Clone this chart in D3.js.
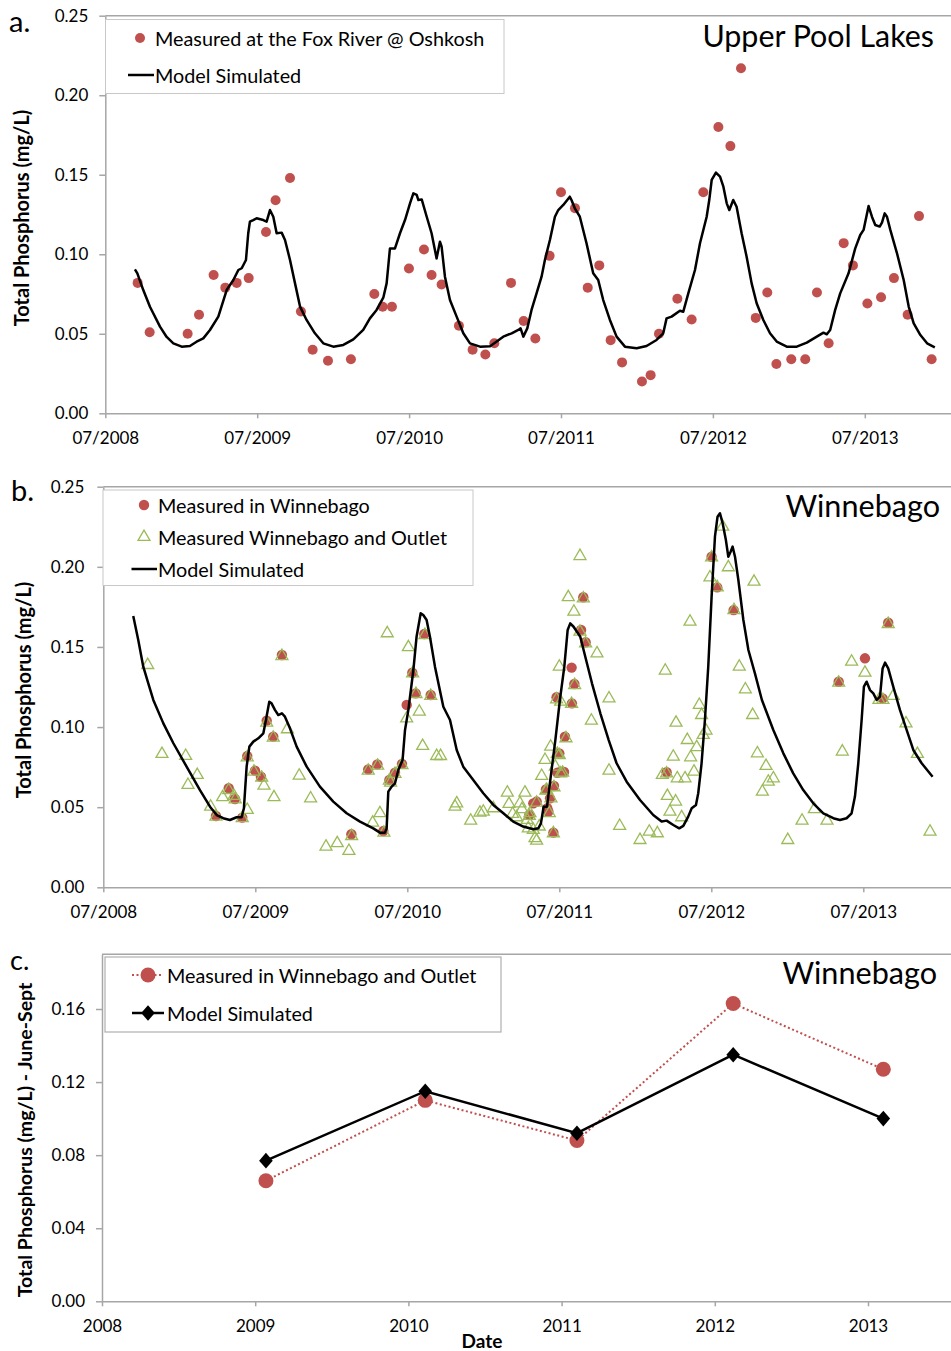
<!DOCTYPE html>
<html><head><meta charset="utf-8">
<script src="https://cdn.jsdelivr.net/npm/d3@7"></script>
<style>body{margin:0;background:#fff}svg{display:block}text{font-family:Lato,'Open Sans',sans-serif;fill:#000}</style>
</head><body><svg id="chart" width="951" height="1351"></svg>
<script>
// ---------- DATA (x = decimal year, y = total phosphorus mg/L) ----------
const monthTickValues = [2008.5, 2009.5, 2010.5, 2011.5, 2012.5, 2013.5];
const monthTickLabels = ["07/2008", "07/2009", "07/2010", "07/2011", "07/2012", "07/2013"];
const tpTicksAB = [0, 0.05, 0.10, 0.15, 0.20, 0.25];
const yearTickValues = [2008, 2009, 2010, 2011, 2012, 2013];
const yearTickLabels = ["2008", "2009", "2010", "2011", "2012", "2013"];
const tpTicksC = [0, 0.04, 0.08, 0.12, 0.16];

const upperMeasured = [[2008.713,0.082],[2008.792,0.051],[2009.042,0.050],[2009.117,0.062],[2009.213,0.087],[2009.290,0.079],[2009.365,0.082],[2009.444,0.085],[2009.558,0.114],[2009.621,0.134],[2009.716,0.148],[2009.788,0.064],[2009.865,0.040],[2009.966,0.033],[2010.117,0.034],[2010.271,0.075],[2010.326,0.067],[2010.387,0.067],[2010.499,0.091],[2010.598,0.103],[2010.648,0.087],[2010.714,0.081],[2010.828,0.055],[2010.918,0.040],[2011.002,0.037],[2011.061,0.044],[2011.171,0.082],[2011.254,0.058],[2011.331,0.047],[2011.425,0.099],[2011.500,0.139],[2011.592,0.129],[2011.676,0.079],[2011.752,0.093],[2011.827,0.046],[2011.902,0.032],[2012.033,0.020],[2012.090,0.024],[2012.145,0.050],[2012.266,0.072],[2012.360,0.059],[2012.437,0.139],[2012.536,0.180],[2012.615,0.168],[2012.685,0.217],[2012.782,0.060],[2012.858,0.076],[2012.918,0.031],[2013.016,0.034],[2013.108,0.034],[2013.185,0.076],[2013.262,0.044],[2013.361,0.107],[2013.422,0.093],[2013.517,0.069],[2013.607,0.073],[2013.692,0.085],[2013.782,0.062],[2013.857,0.124],[2013.940,0.034]];

const upperModel = [[2008.695,0.0905],[2008.711,0.088],[2008.750,0.0775],[2008.794,0.067],[2008.860,0.0545],[2008.904,0.048],[2008.948,0.044],[2009.003,0.0419],[2009.057,0.0423],[2009.101,0.045],[2009.145,0.0471],[2009.189,0.0524],[2009.244,0.0608],[2009.299,0.0775],[2009.343,0.0838],[2009.376,0.0901],[2009.398,0.0912],[2009.426,0.0964],[2009.441,0.1132],[2009.452,0.1205],[2009.474,0.1215],[2009.496,0.1226],[2009.540,0.1215],[2009.562,0.1205],[2009.584,0.1278],[2009.606,0.1236],[2009.628,0.1132],[2009.661,0.1136],[2009.683,0.109],[2009.716,0.0964],[2009.749,0.0817],[2009.782,0.0671],[2009.825,0.0587],[2009.880,0.0503],[2009.935,0.044],[2010.001,0.0419],[2010.067,0.043],[2010.133,0.0465],[2010.198,0.0524],[2010.242,0.0597],[2010.286,0.065],[2010.330,0.0727],[2010.352,0.0817],[2010.374,0.1037],[2010.407,0.1037],[2010.440,0.1132],[2010.473,0.1215],[2010.506,0.132],[2010.528,0.1383],[2010.550,0.1373],[2010.561,0.1341],[2010.583,0.1345],[2010.616,0.1236],[2010.648,0.1132],[2010.681,0.0974],[2010.703,0.1079],[2010.714,0.1048],[2010.736,0.0859],[2010.769,0.0712],[2010.813,0.0608],[2010.857,0.0503],[2010.901,0.044],[2010.967,0.0419],[2011.033,0.0422],[2011.120,0.0482],[2011.175,0.0503],[2011.219,0.0524],[2011.234,0.0534],[2011.252,0.0482],[2011.278,0.0534],[2011.306,0.065],[2011.339,0.0754],[2011.372,0.0859],[2011.394,0.0964],[2011.427,0.109],[2011.460,0.1236],[2011.482,0.1278],[2011.515,0.131],[2011.558,0.1362],[2011.569,0.1341],[2011.591,0.1289],[2011.624,0.1236],[2011.668,0.1069],[2011.712,0.088],[2011.745,0.0838],[2011.778,0.0712],[2011.822,0.0587],[2011.866,0.0482],[2011.921,0.0419],[2011.998,0.0409],[2012.063,0.0423],[2012.129,0.0461],[2012.173,0.0503],[2012.195,0.0597],[2012.228,0.0608],[2012.283,0.0645],[2012.305,0.0639],[2012.338,0.0754],[2012.382,0.0901],[2012.415,0.1069],[2012.459,0.1236],[2012.476,0.1341],[2012.492,0.1467],[2012.520,0.1513],[2012.547,0.1488],[2012.569,0.1425],[2012.591,0.132],[2012.608,0.1278],[2012.634,0.1341],[2012.656,0.1299],[2012.689,0.1132],[2012.722,0.0985],[2012.755,0.0817],[2012.788,0.0692],[2012.832,0.0587],[2012.876,0.0503],[2012.920,0.0451],[2012.986,0.0419],[2013.052,0.0419],[2013.118,0.0444],[2013.184,0.0482],[2013.228,0.0507],[2013.250,0.0497],[2013.272,0.0524],[2013.305,0.065],[2013.338,0.0754],[2013.393,0.088],[2013.437,0.1037],[2013.470,0.1121],[2013.492,0.1153],[2013.525,0.1303],[2013.547,0.1236],[2013.569,0.1184],[2013.598,0.1174],[2013.613,0.1199],[2013.631,0.1257],[2013.646,0.1236],[2013.668,0.1153],[2013.712,0.1006],[2013.756,0.0838],[2013.789,0.0671],[2013.822,0.0566],[2013.866,0.0492],[2013.910,0.044],[2013.961,0.0415]];

const winMeasured = [[2009.241,0.0445],[2009.325,0.0618],[2009.366,0.0551],[2009.414,0.0435],[2009.447,0.0819],[2009.498,0.0728],[2009.537,0.069],[2009.575,0.104],[2009.618,0.094],[2009.675,0.145],[2010.132,0.0331],[2010.243,0.0736],[2010.303,0.0767],[2010.342,0.0351],[2010.382,0.067],[2010.419,0.0715],[2010.465,0.077],[2010.496,0.1138],[2010.533,0.1339],[2010.555,0.121],[2010.612,0.1581],[2010.654,0.12],[2011.303,0.0451],[2011.329,0.0524],[2011.351,0.0535],[2011.412,0.0611],[2011.421,0.0493],[2011.428,0.0472],[2011.439,0.0555],[2011.461,0.0341],[2011.465,0.0632],[2011.482,0.1186],[2011.487,0.0715],[2011.500,0.0836],[2011.509,0.072],[2011.531,0.072],[2011.537,0.094],[2011.581,0.1371],[2011.583,0.1148],[2011.599,0.1269],[2011.643,0.1606],[2011.658,0.181],[2011.673,0.1529],[2012.206,0.0718],[2012.502,0.2063],[2012.539,0.1872],[2012.647,0.173],[2013.338,0.1283],[2013.511,0.1429],[2013.627,0.1179],[2013.664,0.1651]];

const winOutlet = [[2008.792,0.1387],[2008.886,0.0832],[2009.042,0.082],[2009.057,0.0639],[2009.118,0.0701],[2009.206,0.0503],[2009.241,0.0441],[2009.285,0.0562],[2009.325,0.0607],[2009.360,0.057],[2009.368,0.0549],[2009.414,0.0431],[2009.447,0.0483],[2009.447,0.0811],[2009.491,0.0722],[2009.542,0.0684],[2009.557,0.0634],[2009.575,0.1027],[2009.618,0.0934],[2009.623,0.0562],[2009.675,0.1443],[2009.711,0.0986],[2009.789,0.0697],[2009.864,0.0555],[2009.965,0.0254],[2010.039,0.0275],[2010.116,0.0227],[2010.134,0.032],[2010.243,0.0728],[2010.272,0.0403],[2010.305,0.0759],[2010.320,0.0462],[2010.346,0.0341],[2010.368,0.1585],[2010.382,0.0666],[2010.390,0.0653],[2010.419,0.0707],[2010.465,0.0763],[2010.496,0.1054],[2010.507,0.1498],[2010.535,0.1335],[2010.557,0.1206],[2010.579,0.1096],[2010.601,0.0882],[2010.616,0.1574],[2010.654,0.1194],[2010.693,0.0819],[2010.719,0.0819],[2010.814,0.0503],[2010.825,0.0524],[2010.917,0.0416],[2010.978,0.0466],[2011.000,0.0472],[2011.066,0.0493],[2011.158,0.0591],[2011.169,0.052],[2011.193,0.0458],[2011.219,0.0437],[2011.241,0.0524],[2011.254,0.0487],[2011.274,0.0591],[2011.289,0.042],[2011.296,0.0368],[2011.303,0.0445],[2011.307,0.0462],[2011.329,0.0358],[2011.340,0.0306],[2011.351,0.0291],[2011.351,0.0528],[2011.368,0.0379],[2011.384,0.0695],[2011.406,0.0795],[2011.412,0.0603],[2011.417,0.0607],[2011.434,0.0462],[2011.443,0.0878],[2011.445,0.0555],[2011.461,0.0337],[2011.465,0.0624],[2011.474,0.0753],[2011.482,0.1173],[2011.487,0.0832],[2011.500,0.1377],[2011.500,0.0824],[2011.509,0.1158],[2011.509,0.0711],[2011.522,0.0715],[2011.544,0.093],[2011.559,0.181],[2011.581,0.1144],[2011.596,0.172],[2011.601,0.1262],[2011.636,0.2067],[2011.636,0.1595],[2011.658,0.1803],[2011.673,0.1522],[2011.711,0.104],[2011.748,0.146],[2011.827,0.1179],[2011.827,0.0728],[2011.897,0.0383],[2012.031,0.0295],[2012.092,0.0347],[2012.145,0.0337],[2012.178,0.0701],[2012.197,0.1352],[2012.206,0.0711],[2012.211,0.057],[2012.228,0.0472],[2012.250,0.0815],[2012.265,0.0535],[2012.268,0.1027],[2012.276,0.068],[2012.305,0.0437],[2012.327,0.068],[2012.342,0.0919],[2012.360,0.1658],[2012.364,0.0811],[2012.386,0.0722],[2012.404,0.0874],[2012.421,0.1138],[2012.436,0.1075],[2012.447,0.0951],[2012.465,0.0978],[2012.491,0.1934],[2012.502,0.2059],[2012.539,0.1872],[2012.575,0.225],[2012.612,0.1997],[2012.649,0.173],[2012.684,0.1377],[2012.724,0.1235],[2012.772,0.1075],[2012.781,0.1907],[2012.803,0.0836],[2012.836,0.0597],[2012.860,0.0757],[2012.875,0.0659],[2012.908,0.068],[2013.003,0.0295],[2013.097,0.0416],[2013.178,0.0487],[2013.261,0.0416],[2013.338,0.1277],[2013.362,0.0847],[2013.423,0.1408],[2013.511,0.1339],[2013.603,0.1169],[2013.629,0.1169],[2013.664,0.1643],[2013.697,0.1194],[2013.781,0.1023],[2013.856,0.0832],[2013.939,0.0347]];

const winModel = [[2008.697,0.1693],[2008.730,0.1543],[2008.763,0.1377],[2008.796,0.1273],[2008.829,0.1169],[2008.895,0.1023],[2008.961,0.0899],[2009.048,0.0753],[2009.136,0.0607],[2009.202,0.0503],[2009.246,0.0451],[2009.289,0.0431],[2009.333,0.042],[2009.377,0.0437],[2009.410,0.0437],[2009.425,0.0493],[2009.443,0.0753],[2009.461,0.0878],[2009.487,0.0909],[2009.520,0.093],[2009.553,0.0961],[2009.570,0.1044],[2009.592,0.1158],[2009.607,0.1148],[2009.629,0.1107],[2009.651,0.1075],[2009.675,0.1086],[2009.695,0.1065],[2009.728,0.0992],[2009.772,0.0878],[2009.838,0.0753],[2009.925,0.0628],[2010.013,0.0535],[2010.101,0.0462],[2010.189,0.041],[2010.276,0.0368],[2010.320,0.0341],[2010.353,0.0341],[2010.364,0.0368],[2010.375,0.0597],[2010.397,0.0628],[2010.419,0.0649],[2010.441,0.0732],[2010.469,0.0795],[2010.485,0.0982],[2010.507,0.1107],[2010.540,0.1356],[2010.561,0.1564],[2010.588,0.171],[2010.605,0.1699],[2010.627,0.1668],[2010.649,0.1564],[2010.682,0.1377],[2010.737,0.1127],[2010.781,0.1044],[2010.825,0.0857],[2010.868,0.0753],[2010.934,0.067],[2011.000,0.0587],[2011.066,0.0514],[2011.132,0.0462],[2011.197,0.041],[2011.263,0.0379],[2011.329,0.0362],[2011.362,0.0368],[2011.379,0.0399],[2011.397,0.0503],[2011.419,0.0503],[2011.441,0.067],[2011.474,0.0919],[2011.504,0.1169],[2011.533,0.1377],[2011.555,0.1606],[2011.572,0.1647],[2011.594,0.1626],[2011.616,0.1595],[2011.638,0.1564],[2011.671,0.1439],[2011.715,0.1273],[2011.770,0.1086],[2011.825,0.0919],[2011.877,0.0774],[2011.943,0.0659],[2012.031,0.0545],[2012.118,0.0451],[2012.173,0.041],[2012.206,0.0416],[2012.250,0.0389],[2012.289,0.0368],[2012.316,0.0383],[2012.348,0.0441],[2012.371,0.0493],[2012.399,0.0514],[2012.414,0.0587],[2012.436,0.0774],[2012.458,0.1044],[2012.480,0.1377],[2012.502,0.1814],[2012.524,0.2188],[2012.541,0.2313],[2012.557,0.2334],[2012.575,0.2271],[2012.596,0.2167],[2012.612,0.2063],[2012.627,0.2094],[2012.640,0.2126],[2012.656,0.2063],[2012.678,0.1918],[2012.711,0.1668],[2012.744,0.1481],[2012.787,0.1335],[2012.833,0.1169],[2012.908,0.0982],[2012.974,0.0836],[2013.039,0.0711],[2013.105,0.0607],[2013.171,0.0524],[2013.237,0.0462],[2013.303,0.0431],[2013.346,0.042],[2013.390,0.0431],[2013.423,0.0462],[2013.445,0.0566],[2013.467,0.0774],[2013.489,0.1044],[2013.504,0.1252],[2013.522,0.1283],[2013.544,0.1231],[2013.566,0.121],[2013.588,0.1169],[2013.610,0.119],[2013.627,0.1366],[2013.643,0.1402],[2013.664,0.1366],[2013.697,0.1252],[2013.741,0.1107],[2013.785,0.0982],[2013.829,0.0857],[2013.884,0.0774],[2013.956,0.069]];

const seasonYears = [2009.07, 2010.11, 2011.10, 2012.12, 2013.10];
const seasonMeasured = [0.066, 0.110, 0.088, 0.163, 0.127];
const seasonModel = [0.077, 0.115, 0.092, 0.135, 0.100];

// ---------- DRAWING ----------
const RED = "#C0504D", GREEN = "#9BBB59", AXC = "#a6a6a6", LEG = "#c8c8c8";
const svg = d3.select("#chart");
const W = 951;

function axes(x, y, xVals, xLabs, yVals, yPad, yFmt) {
  const g = svg.append("g");
  const y0 = y.range()[0], yTop = y.range()[1], x0 = x.range()[0];
  g.append("line").attr("x1", x0).attr("x2", W).attr("y1", yTop).attr("y2", yTop)
    .attr("stroke", AXC).attr("stroke-width", 1.5);
  const gl = g.append("g").attr("transform", `translate(${x0},0)`)
    .call(d3.axisLeft(y).tickValues(yVals).tickFormat(yFmt).tickSize(6).tickPadding(yPad).tickSizeOuter(0));
  const gb = g.append("g").attr("transform", `translate(0,${y0})`)
    .call(d3.axisBottom(x).tickValues(xVals).tickFormat((d, i) => xLabs[i]).tickSize(5).tickPadding(14).tickSizeOuter(0));
  [gl, gb].forEach(a => {
    a.select(".domain").attr("stroke", AXC).attr("stroke-width", 1.5);
    a.selectAll(".tick line").attr("stroke", AXC).attr("stroke-width", 1.5);
    a.selectAll(".tick text").attr("font-size", 17).attr("font-family", "Lato").attr("fill", "#000");
  });
}

function label(txt, x, y, size, opts = {}) {
  const t = svg.append("text").attr("x", x).attr("y", y).attr("font-size", size).text(txt);
  if (opts.anchor) t.attr("text-anchor", opts.anchor);
  if (opts.bold) t.attr("font-weight", "bold");
  if (opts.mid) t.attr("dominant-baseline", "central");
  return t;
}
function vlabel(txt, x, y, size) {
  svg.append("text").attr("transform", `translate(${x},${y}) rotate(-90)`)
    .attr("text-anchor", "middle").attr("font-size", size).attr("font-weight", "bold").text(txt);
}

// ===== Panel a =====
const xA = d3.scaleLinear().domain([2008.5, 2014.5]).range([105.3, 105.3 + 6 * 151.9]);
const yA = d3.scaleLinear().domain([0, 0.25]).range([413.3, 15.7]);
axes(xA, yA, monthTickValues, monthTickLabels, tpTicksAB, 11, d3.format(".2f"));
svg.append("g").selectAll("circle").data(upperMeasured).join("circle")
  .attr("cx", d => xA(d[0])).attr("cy", d => yA(d[1])).attr("r", 5).attr("fill", RED);
svg.append("path").datum(upperModel)
  .attr("d", d3.line().x(d => xA(d[0])).y(d => yA(d[1])))
  .attr("fill", "none").attr("stroke", "#000").attr("stroke-width", 2.5).attr("stroke-linejoin", "round");
// legend a
svg.append("rect").attr("x", 105.5).attr("y", 19.5).attr("width", 398.5).attr("height", 74)
  .attr("fill", "#fff").attr("stroke", LEG).attr("stroke-width", 1);
svg.append("circle").attr("cx", 140).attr("cy", 38).attr("r", 5).attr("fill", RED);
label("Measured at the Fox River @ Oshkosh", 155, 38, 19.8, { mid: true });
svg.append("line").attr("x1", 128).attr("x2", 154).attr("y1", 75).attr("y2", 75).attr("stroke", "#000").attr("stroke-width", 2.5);
label("Model Simulated", 155, 75, 19.8, { mid: true });
label("Upper Pool Lakes", 934, 47, 30.4, { anchor: "end" });
label("a.", 9, 32, 29);
vlabel("Total Phosphorus (mg/L)", 29, 218, 20);

// ===== Panel b =====
const xB = d3.scaleLinear().domain([2008.5, 2014.5]).range([103.3, 103.3 + 6 * 152]);
const yB = d3.scaleLinear().domain([0, 0.25]).range([887.3, 486.7]);
axes(xB, yB, monthTickValues, monthTickLabels, tpTicksAB, 13, d3.format(".2f"));
svg.append("g").selectAll("circle").data(winMeasured).join("circle")
  .attr("cx", d => xB(d[0])).attr("cy", d => yB(d[1])).attr("r", 5.2).attr("fill", RED);
const tri = d3.symbol(d3.symbolTriangle).size(62);
svg.append("g").selectAll("path").data(winOutlet).join("path")
  .attr("transform", d => `translate(${xB(d[0])},${yB(d[1])})`).attr("d", tri)
  .attr("fill", "none").attr("stroke", GREEN).attr("stroke-width", 1.3);
svg.append("path").datum(winModel)
  .attr("d", d3.line().x(d => xB(d[0])).y(d => yB(d[1])))
  .attr("fill", "none").attr("stroke", "#000").attr("stroke-width", 2.5).attr("stroke-linejoin", "round");
// legend b
svg.append("rect").attr("x", 103).attr("y", 490).attr("width", 370).attr("height", 95.5)
  .attr("fill", "#fff").attr("stroke", LEG).attr("stroke-width", 1);
svg.append("circle").attr("cx", 144).attr("cy", 505).attr("r", 5.2).attr("fill", RED);
label("Measured in Winnebago", 158, 505, 19.8, { mid: true });
svg.append("path").attr("transform", "translate(144,537)").attr("d", tri)
  .attr("fill", "none").attr("stroke", GREEN).attr("stroke-width", 1.3);
label("Measured Winnebago and Outlet", 158, 537, 19.8, { mid: true });
svg.append("line").attr("x1", 131.5).attr("x2", 157).attr("y1", 569).attr("y2", 569).attr("stroke", "#000").attr("stroke-width", 2.5);
label("Model Simulated", 158, 569, 19.8, { mid: true });
label("Winnebago", 940, 517, 30.6, { anchor: "end" });
label("b.", 11, 501, 29);
vlabel("Total Phosphorus (mg/L)", 31, 690, 20);

// ===== Panel c =====
const xC = d3.scaleLinear().domain([2008, 2014]).range([102, 102 + 6 * 153.2]);
const yC = d3.scaleLinear().domain([0, 0.19]).range([1301.3, 954.2]);
axes(xC, yC, yearTickValues, yearTickLabels, tpTicksC, 11, d3.format(".2f"));
const measC = seasonYears.map((yr, i) => [yr, seasonMeasured[i]]);
const modC = seasonYears.map((yr, i) => [yr, seasonModel[i]]);
const lineC = d3.line().x(d => xC(d[0])).y(d => yC(d[1]));
svg.append("path").datum(measC).attr("d", lineC).attr("fill", "none")
  .attr("stroke", RED).attr("stroke-width", 2).attr("stroke-dasharray", "2,2.5");
svg.append("g").selectAll("circle").data(measC).join("circle")
  .attr("cx", d => xC(d[0])).attr("cy", d => yC(d[1])).attr("r", 7.5).attr("fill", RED);
svg.append("path").datum(modC).attr("d", lineC).attr("fill", "none")
  .attr("stroke", "#000").attr("stroke-width", 2.5);
const diamond = "M0,-7.8L6.8,0L0,7.8L-6.8,0Z";
svg.append("g").selectAll("path").data(modC).join("path")
  .attr("transform", d => `translate(${xC(d[0])},${yC(d[1])})`).attr("d", diamond).attr("fill", "#000");
// legend c
svg.append("rect").attr("x", 105).attr("y", 957).attr("width", 396).attr("height", 75)
  .attr("fill", "#fff").attr("stroke", "#b0b0b0").attr("stroke-width", 1.2);
svg.append("line").attr("x1", 132).attr("x2", 162).attr("y1", 975).attr("y2", 975)
  .attr("stroke", RED).attr("stroke-width", 2).attr("stroke-dasharray", "2,2.5");
svg.append("circle").attr("cx", 148).attr("cy", 975).attr("r", 7.5).attr("fill", RED);
label("Measured in Winnebago and Outlet", 167, 975, 19.75, { mid: true });
svg.append("line").attr("x1", 132).attr("x2", 164).attr("y1", 1013).attr("y2", 1013)
  .attr("stroke", "#000").attr("stroke-width", 2.5);
svg.append("path").attr("transform", "translate(148,1013)").attr("d", diamond).attr("fill", "#000");
label("Model Simulated", 167, 1013, 19.75, { mid: true });
label("Winnebago", 937, 984, 30.6, { anchor: "end" });
label("c.", 10, 970, 27);
label("Date", 482, 1348, 19, { anchor: "middle", bold: true });
vlabel("Total Phosphorus (mg/L) - June-Sept", 32, 1140, 19.5);
</script></body></html>
